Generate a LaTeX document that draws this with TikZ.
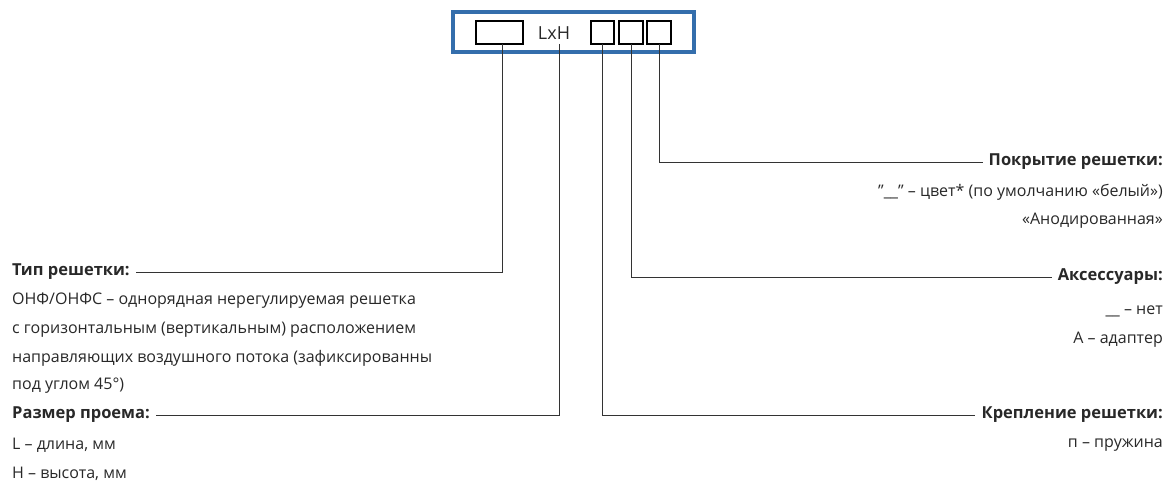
\documentclass[tikz,border=0pt]{standalone}
\usepackage{fontspec}
\setmainfont{Open Sans}
\definecolor{frameblue}{RGB}{52,110,172}
\definecolor{txt}{RGB}{40,40,40}
\begin{document}
\begin{tikzpicture}[x=1pt,y=-1pt,
  lbl/.style={inner sep=0pt,font=\fontsize{16}{18}\selectfont,text=txt},
  hd/.style={lbl,font=\fontsize{16.5}{18}\selectfont\bfseries},
  cell/.style={draw=black,line width=1.6pt},
  lead/.style={line width=0.9pt,draw=black!80}]
\useasboundingbox (0,0) rectangle (1172,487);
\draw[draw=frameblue,line width=4pt] (453,12) rectangle (694,52);
\draw[cell] (476,21) rectangle (523,44);
\node[lbl,font=\fontsize{18}{20}\selectfont] (lxh) at (554,33) {LxH};
\draw[cell] (591,21) rectangle (614,44);
\draw[cell] (619,21) rectangle (643,44);
\draw[cell] (647,21) rectangle (671,44);
\coordinate (b1) at (502,44); \coordinate (b2) at (559,44);
\coordinate (b3) at (602,44); \coordinate (b4) at (631,44); \coordinate (b5) at (659,44);
% left
\node[hd,anchor=west] (t1) at (12,272) {Тип решетки:};
\node[lbl,anchor=west] at (12,301) {ОНФ/ОНФС – однорядная нерегулируемая решетка};
\node[lbl,anchor=west] at (12,330) {с горизонтальным (вертикальным) расположением};
\node[lbl,anchor=west] at (12,358) {направляющих воздушного потока (зафиксированны};
\node[lbl,anchor=west] at (12,386) {под углом 45°)};
\node[hd,anchor=west] (t2) at (12,415) {Размер проема:};
\node[lbl,anchor=west] at (12,445) {L – длина, мм};
\node[lbl,anchor=west] at (12,474) {H – высота, мм};
% right
\node[hd,anchor=east] (t5) at (1163,162) {Покрытие решетки:};
\node[lbl,anchor=east] at (1163,192) {\char"22\_\_\char"22{} – цвет* (по умолчанию «белый»)};
\node[lbl,anchor=east] at (1163,221) {«Анодированная»};
\node[hd,anchor=east] (t4) at (1163,277) {Аксессуары:};
\node[lbl,anchor=east] at (1163,311) {\_\_ – нет};
\node[lbl,anchor=east] at (1163,340) {А – адаптер};
\node[hd,anchor=east] (t3) at (1163,415) {Крепление решетки:};
\node[lbl,anchor=east] at (1163,445) {п – пружина};
% leaders
\draw[lead] (b1) |- ([xshift=6pt]t1.east);
\draw[lead] (b2) |- ([xshift=6pt]t2.east);
\draw[lead] (b3) |- ([xshift=-6pt]t3.west);
\draw[lead] (b4) |- ([xshift=-6pt]t4.west);
\draw[lead] (b5) |- ([xshift=-6pt]t5.west);
\end{tikzpicture}
\end{document}
